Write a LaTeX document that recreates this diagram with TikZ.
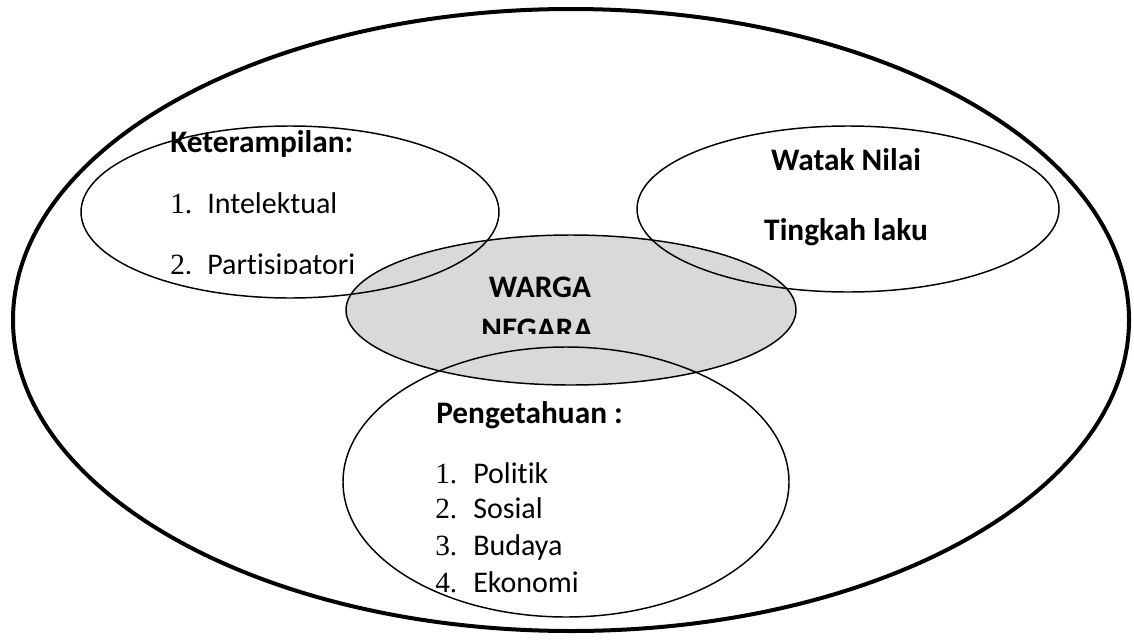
\documentclass[tikz,border=0pt]{standalone}
\usepackage{fontspec}
\setmainfont{Carlito}[Ligatures=NoCommon]
\newfontfamily\numfont{Liberation Serif}
\definecolor{wargagray}{HTML}{D9D9D9}
\begin{document}
\begin{tikzpicture}[x=0.75pt,y=-0.75pt,
    txt/.style={inner sep=0pt,anchor=base west,font=\fontsize{22.5}{27}\selectfont},
    hd/.style={inner sep=0pt,anchor=base west,font=\fontsize{23.5}{28}\selectfont\bfseries},
    hdc/.style={inner sep=0pt,anchor=base,font=\fontsize{23.5}{28}\selectfont\bfseries},
    num/.style={inner sep=0pt,anchor=base west,font=\fontsize{22}{26}\numfont},
    ring/.style={line width=1.1pt}]
    \useasboundingbox (0,0) rectangle (1134,639);

    \filldraw[fill=wargagray,ring]  (571,310) ellipse (225 and 75);
    \draw[ring]  (290,212) ellipse (209 and 86);
    \draw[ring]  (848,209) ellipse (211 and 83);
    \draw[ring]  (566,482) ellipse (223 and 135);
    \draw[line width=3pt]  (571,320) ellipse (558 and 311);

    \node (ket) at (170,152) [hd] {Keterampilan:};
    \node (n1) at (170,213) [num] {1.};
    \node (intel) at (207,213) [txt] {Intelektual};
    \begin{scope}
      \clip (100,230) rectangle (480,273);
      \node (n2) at (170,274) [num] {2.};
      \node (partis) at (207,274) [txt] {Partisipatori};
    \end{scope}

    \node (watak) at (846,170) [hdc] {Watak Nilai};
    \node (tingkah) at (846,240) [hdc] {Tingkah laku};

    \node (warga) at (540,297) [hdc] {WARGA};
    \begin{scope}
      \clip (440,305) rectangle (640,333);
      \node (negara) at (537,339) [hdc] {NEGARA};
    \end{scope}

    \node (peng) at (436,423) [hd] {Pengetahuan :};
    \node (m1) at (435,483) [num] {1.};
    \node (politik) at (473,483) [txt] {Politik};
    \node (m2) at (435,518) [num] {2.};
    \node (sosial) at (473,518) [txt] {Sosial};
    \node (m3) at (435,555) [num] {3.};
    \node (budaya) at (473,555) [txt] {Budaya};
    \node (m4) at (435,592) [num] {4.};
    \node (ekonomi) at (473,592) [txt] {Ekonomi};
\end{tikzpicture}
\end{document}
